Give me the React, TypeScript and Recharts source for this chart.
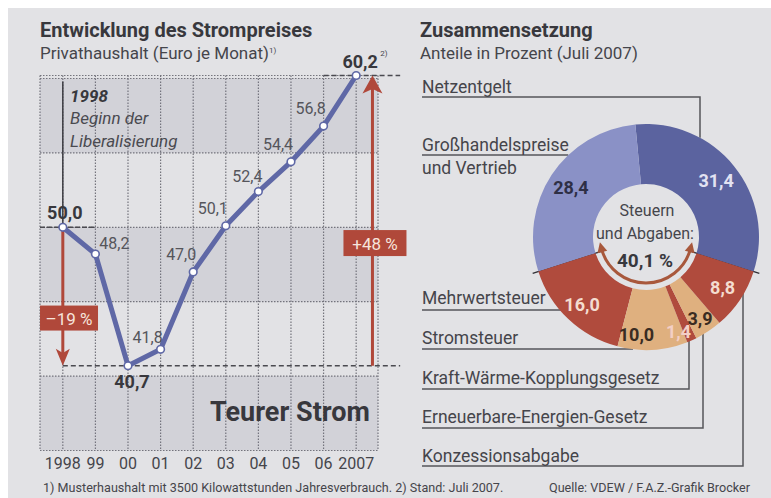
import React from 'react';
import {
  LineChart, Line, XAxis, YAxis, CartesianGrid, ReferenceArea, ReferenceLine, ReferenceDot, LabelList,
  PieChart, Pie, Cell, Customized,
} from 'recharts';

// ---------------- data ----------------
const years = [1998, 1999, 2000, 2001, 2002, 2003, 2004, 2005, 2006, 2007];
const yearLabels = ['1998', '99', '00', '01', '02', '03', '04', '05', '06', '2007'];
const prices = [50.0, 48.2, 40.7, 41.8, 47.0, 50.1, 52.4, 54.4, 56.8, 60.2];
const yTickLabels = [35, 40, 45, 55];
const gridValues = [35, 40, 45, 50, 55, 60];
const shadedBandStarts = [35, 45, 55];

const shareNames = [
  'Netzentgelt',
  'Großhandelspreise und Vertrieb',
  'Mehrwertsteuer',
  'Stromsteuer',
  'Kraft-Wärme-Kopplungsgesetz',
  'Erneuerbare-Energien-Gesetz',
  'Konzessionsabgabe',
];
const shareValues = [31.4, 28.4, 16.0, 10.0, 1.4, 3.9, 8.8];
const taxShare = 40.1;

// ---------------- style ----------------
const FONT = 'Roboto, "Liberation Sans", Arial, sans-serif';
const PAGE_BG = '#e2e2e5';
const BAND_TINT = '#6a6a80';
const GRID = '#74747c';
const LINE_BLUE = '#5f68a6';
const RED = '#b0483a';
const TEXT = '#45454b';
const DARK = '#38383d';
const SLICE_COLORS = ['#5b639f', '#8a91c6', '#b04b3d', '#dfb07f', '#b04b3d', '#dfb07f', '#b04b3d'];
const SLICE_LABEL_COLORS = ['#e2e2f2', '#2e2f45', '#f4ddd0', '#3a2c22', '#f3cfc6', '#3a2c22', '#f4ddd0'];
// [angle shift in degrees, label radius]
const SLICE_LABEL_POS = [[0, 90], [0, 90], [0, 93], [-9, 98], [-5, 100], [0, 98], [0, 92]];
// line value label offsets [dx, dy]
const LINE_LABEL_OFFSETS = [[2, -15], [19, -11], [4, 16], [-13, -12], [-12, -17], [-13, -17], [-11, -15], [-13, -17], [-13, -18], [4, -14]];

const X_MIN = 1997.3;
const X_MAX = 2007.67;
const X_DASH_END = 2008.35;
const PIE_CX = 646;
const PIE_CY = 237;
const PIE_R = 113;
const PIE_IR = 53;

const fmt = (v: number) => v.toFixed(1).replace('.', ',');

const lineData = years.map((year, i) => ({ year, price: prices[i] }));
const pieData = shareNames.map((name, i) => ({ name, value: shareValues[i] }));

const minPrice = Math.min(...prices);
const minIndex = prices.indexOf(minPrice);
const lastPrice = prices[prices.length - 1];
const pctDown = Math.round(((minPrice - prices[0]) / prices[0]) * 100);
const pctUp = Math.round(((lastPrice - minPrice) / minPrice) * 100);

const total = shareValues.reduce((a, b) => a + b, 0);
const taxSum = shareValues.slice(2).reduce((a, b) => a + b, 0);
const redDeg = (360 * taxSum) / total;
const pieStart = 270 + redDeg / 2 - 360;
const blueEnd = pieStart + 360 - redDeg;

// ---------------- helpers ----------------
const Txt = ({ x, cy, size, bold, italic, color, children }: any) => (
  <div
    style={{
      position: 'absolute', left: x, top: cy - size * 0.6, fontSize: size,
      lineHeight: `${size * 1.2}px`, fontWeight: bold ? 700 : 400,
      fontStyle: italic ? 'italic' : 'normal', color: color || TEXT, whiteSpace: 'nowrap',
    }}
  >
    {children}
  </div>
);

const arrowShape = (headLen: number, headHalf: number) => (props: any) => {
  const { x1, y1, x2, y2 } = props;
  const dx = x2 - x1;
  const dy = y2 - y1;
  const len = Math.hypot(dx, dy) || 1;
  const ux = dx / len;
  const uy = dy / len;
  const bx = x2 - ux * headLen;
  const by = y2 - uy * headLen;
  const nx = x2 - ux * headLen * 0.75;
  const ny = y2 - uy * headLen * 0.75;
  const px = -uy;
  const py = ux;
  return (
    <g>
      <line x1={x1} y1={y1} x2={nx} y2={ny} stroke={RED} strokeWidth={3} />
      <polygon
        points={`${x2},${y2} ${bx + px * headHalf},${by + py * headHalf} ${nx},${ny} ${bx - px * headHalf},${by - py * headHalf}`}
        fill={RED}
      />
    </g>
  );
};

const boxShape = (text: string, left: number, width: number, height: number) => (p: any) => (
  <g>
    <rect x={p.cx + left} y={p.cy - height / 2} width={width} height={height} fill={RED} />
    <text
      x={p.cx + left + width / 2} y={p.cy + 1} textAnchor="middle" dominantBaseline="central"
      fill="#f6e4dc" fontSize={17} fontFamily={FONT}
    >
      {text}
    </text>
  </g>
);

const XTick = (p: any) => {
  const idx = years.indexOf(p.payload.value);
  return (
    <text x={p.x} y={469} textAnchor="middle" fontSize={16} fill={TEXT} fontFamily={FONT}>
      {yearLabels[idx]}
    </text>
  );
};

const YTick = (p: any) => {
  if (!yTickLabels.includes(p.payload.value)) return <g />;
  return (
    <text x={44} y={p.y - 4} fontSize={15} fill="#55555b" fontFamily={FONT}>
      {p.payload.value}
    </text>
  );
};

const PriceLabel = (p: any) => {
  const { x, y, index, value } = p;
  const [dx, dy] = LINE_LABEL_OFFSETS[index];
  const bold = index === 0 || index === minIndex || index === prices.length - 1;
  const size = bold ? 18 : 16;
  return (
    <g>
      <text
        x={x + dx} y={y + dy} textAnchor="middle" dominantBaseline="central"
        fontSize={size} fontWeight={bold ? 700 : 400} fill={bold ? DARK : '#55555b'} fontFamily={FONT}
      >
        {fmt(value)}
      </text>
      {index === prices.length - 1 && (
        <text x={x + dx + 20} y={y + dy - 6} fontSize={8} fill={TEXT} fontFamily={FONT}>2)</text>
      )}
    </g>
  );
};

const pieLabel = (p: any) => {
  const { cx, cy, midAngle, index } = p;
  const [shift, r] = SLICE_LABEL_POS[index];
  const a = ((midAngle + shift) * Math.PI) / 180;
  const x = cx + r * Math.cos(a);
  const y = cy - r * Math.sin(a);
  return (
    <text
      x={x} y={y} textAnchor="middle" dominantBaseline="central" fontSize={18} fontWeight={700}
      fill={SLICE_LABEL_COLORS[index]} fontFamily={FONT}
    >
      {fmt(shareValues[index])}
    </text>
  );
};

const polar = (r: number, deg: number) => {
  const a = (deg * Math.PI) / 180;
  return [PIE_CX + r * Math.cos(a), PIE_CY - r * Math.sin(a)];
};

const ringBottomY = (x: number) => PIE_CY + Math.sqrt(Math.max(0, PIE_R * PIE_R - (x - PIE_CX) ** 2));
const ringTopY = (x: number) => PIE_CY - Math.sqrt(Math.max(0, PIE_R * PIE_R - (x - PIE_CX) ** 2));
const ringLeftX = (y: number) => PIE_CX - Math.sqrt(Math.max(0, PIE_R * PIE_R - (y - PIE_CY) ** 2));

const PieDecor = () => {
  const [l1x, l1y] = polar(PIE_IR - 10, blueEnd);
  const [l2x, l2y] = polar(PIE_R + 6, blueEnd);
  const [r1x, r1y] = polar(PIE_IR - 10, pieStart);
  const [r2x, r2y] = polar(PIE_R + 6, pieStart);
  const ar = 46;
  const aL = 194;
  const aR = 346;
  const [sx, sy] = polar(ar, aL);
  const [ex, ey] = polar(ar, aR);
  const head = (deg: number, sign: number) => {
    const rad = (deg * Math.PI) / 180;
    const [px, py] = polar(ar, deg);
    const dx = sign * -Math.sin(rad);
    const dy = sign * -Math.cos(rad);
    const tipX = px + dx * 6;
    const tipY = py + dy * 6;
    const bx = px - dx * 4;
    const by = py - dy * 4;
    const nx = -dy;
    const ny = dx;
    return `${tipX},${tipY} ${bx + nx * 5},${by + ny * 5} ${bx - nx * 5},${by - ny * 5}`;
  };
  const stroke = '#55555a';
  const leaders = [
    `M422,97 H700 V${ringTopY(700)}`,
    `M422,155 H${ringLeftX(155)}`,
    `M422,310 H${ringLeftX(310) + 2}`,
    `M422,349 H${ringLeftX(349) + 2}`,
    `M422,389 H689 V${ringBottomY(689) - 2}`,
    `M422,428 H703 V${ringBottomY(703) - 2}`,
    `M422,466 H743 V${ringBottomY(743) - 2}`,
  ];
  return (
    <g>
      {leaders.map((d, i) => (
        <path key={i} d={d} fill="none" stroke={stroke} strokeWidth={1.5} />
      ))}
      <line x1={l1x} y1={l1y} x2={l2x} y2={l2y} stroke="#2f2f35" strokeWidth={1.3} />
      <line x1={r1x} y1={r1y} x2={r2x} y2={r2y} stroke="#2f2f35" strokeWidth={1.3} />
      <path d={`M${sx},${sy} A${ar},${ar} 0 0 0 ${ex},${ey}`} fill="none" stroke="#a8583c" strokeWidth={3} />
      <polygon points={head(aL, -1)} fill="#a8583c" />
      <polygon points={head(aR, 1)} fill="#a8583c" />
      <text x={647} y={210} textAnchor="middle" dominantBaseline="central" fontSize={16} fill={TEXT} fontFamily={FONT}>Steuern</text>
      <text x={645} y={233} textAnchor="middle" dominantBaseline="central" fontSize={16} fill={TEXT} fontFamily={FONT}>und Abgaben:</text>
      <text x={645} y={260} textAnchor="middle" dominantBaseline="central" fontSize={19} fontWeight={700} fill={DARK} fontFamily={FONT}>
        {fmt(taxShare)} %
      </text>
    </g>
  );
};

export default function App() {
  return (
    <div style={{ position: 'fixed', left: 0, top: 0, width: 771, height: 498, background: '#ffffff', overflow: 'hidden', fontFamily: FONT }}>
      <div style={{ position: 'absolute', left: 8, top: 8, width: 763, height: 490, background: PAGE_BG }} />

      <div style={{ position: 'absolute', left: 0, top: 0 }}>
        <LineChart width={420} height={498} data={lineData} margin={{ top: 75.5, right: 42, bottom: 17.5, left: 40 }}>
          <CartesianGrid stroke={GRID} strokeWidth={1.2} strokeDasharray="1.5 1.5" />
          <XAxis
            dataKey="year" type="number" domain={[X_MIN, X_MAX]} ticks={years} interval={0}
            axisLine={false} tickLine={false} height={30} tick={XTick}
          />
          <YAxis
            type="number" domain={[35, lastPrice]} ticks={gridValues} interval={0} mirror width={0}
            axisLine={false} tickLine={false} tick={YTick}
          />
          {shadedBandStarts.map((v) => (
            <ReferenceArea
              key={`b${v}`} x1={X_MIN} x2={X_MAX} y1={v} y2={v + 5}
              fill={BAND_TINT} fillOpacity={0.13} stroke="none" ifOverflow="visible"
            />
          ))}
          <ReferenceLine segment={[{ x: X_MIN, y: prices[0] }, { x: years[1], y: prices[0] }]} stroke="#4a4a50" strokeWidth={1.5} strokeDasharray="5 2" ifOverflow="visible" />
          <ReferenceLine segment={[{ x: years[0], y: minPrice }, { x: X_DASH_END, y: minPrice }]} stroke="#4a4a50" strokeWidth={1.5} strokeDasharray="5 3" ifOverflow="visible" />
          <ReferenceLine segment={[{ x: years[8], y: lastPrice }, { x: X_DASH_END, y: lastPrice }]} stroke="#4a4a50" strokeWidth={1.5} strokeDasharray="5 3" ifOverflow="visible" />
          <ReferenceLine segment={[{ x: years[0], y: prices[0] }, { x: years[0], y: 59.8 }]} stroke="#3c3c42" strokeWidth={1.5} ifOverflow="visible" />
          <ReferenceLine segment={[{ x: years[0], y: prices[0] }, { x: years[0], y: minPrice }]} shape={arrowShape(17, 7)} ifOverflow="visible" />
          <ReferenceLine segment={[{ x: 2007.5, y: minPrice }, { x: 2007.5, y: lastPrice }]} shape={arrowShape(18, 10)} ifOverflow="visible" />
          <ReferenceDot x={years[0]} y={43.9} shape={boxShape(`–${Math.abs(pctDown)} %`, -22.8, 58, 25)} ifOverflow="visible" />
          <ReferenceDot x={2007.5} y={48.94} shape={boxShape(`+${pctUp} %`, -29, 63, 26)} ifOverflow="visible" />
          <Line
            dataKey="price" stroke={LINE_BLUE} strokeWidth={5} strokeLinejoin="round"
            dot={{ r: 3.8, fill: '#ffffff', stroke: LINE_BLUE, strokeWidth: 1.6 }}
            isAnimationActive={false}
          >
            <LabelList dataKey="price" content={PriceLabel} />
          </Line>
        </LineChart>
      </div>

      <div style={{ position: 'absolute', left: 0, top: 0 }}>
        <PieChart width={771} height={498} margin={{ top: 0, right: 0, bottom: 0, left: 0 }}>
          <Pie
            data={pieData} dataKey="value" nameKey="name" cx={PIE_CX} cy={PIE_CY}
            innerRadius={PIE_IR} outerRadius={PIE_R} startAngle={pieStart} endAngle={pieStart + 360}
            stroke="none" label={pieLabel} labelLine={false} isAnimationActive={false}
          >
            {pieData.map((d, i) => (
              <Cell key={d.name} fill={SLICE_COLORS[i]} />
            ))}
          </Pie>
          <Customized component={<PieDecor />} />
        </PieChart>
      </div>

      {/* left titles */}
      <Txt x={40} cy={30} size={20} bold color={DARK}>Entwicklung des Strompreises</Txt>
      <Txt x={40} cy={53} size={17}>
        Privathaushalt (Euro je Monat)<sup style={{ fontSize: 8, verticalAlign: 'top', position: 'relative', top: -2 }}>1)</sup>
      </Txt>
      <Txt x={70} cy={96} size={17} bold italic color={DARK}>1998</Txt>
      <Txt x={70} cy={118} size={17} italic color="#4a4a50">Beginn der</Txt>
      <Txt x={70} cy={141} size={17} italic color="#4a4a50">Liberalisierung</Txt>
      <Txt x={210} cy={412} size={27} bold color={DARK}>Teurer Strom</Txt>

      {/* right titles */}
      <Txt x={420} cy={30} size={20} bold color={DARK}>Zusammensetzung</Txt>
      <Txt x={420} cy={53} size={17}>Anteile in Prozent (Juli 2007)</Txt>
      <Txt x={422} cy={87} size={17.5}>{shareNames[0]}</Txt>
      <Txt x={422} cy={145} size={17.5}>Großhandelspreise</Txt>
      <Txt x={422} cy={168} size={17.5}>und Vertrieb</Txt>
      <Txt x={422} cy={298} size={17.5}>{shareNames[2]}</Txt>
      <Txt x={422} cy={338} size={17.5}>{shareNames[3]}</Txt>
      <Txt x={422} cy={378} size={17.5}>{shareNames[4]}</Txt>
      <Txt x={422} cy={417} size={17.5}>{shareNames[5]}</Txt>
      <Txt x={422} cy={456} size={17.5}>{shareNames[6]}</Txt>

      {/* footnotes */}
      <Txt x={43} cy={488} size={12.6}>1) Musterhaushalt mit 3500 Kilowattstunden Jahresverbrauch. 2) Stand: Juli 2007.</Txt>
      <Txt x={549} cy={488} size={12.6}>Quelle: VDEW / F.A.Z.-Grafik Brocker</Txt>
    </div>
  );
}
